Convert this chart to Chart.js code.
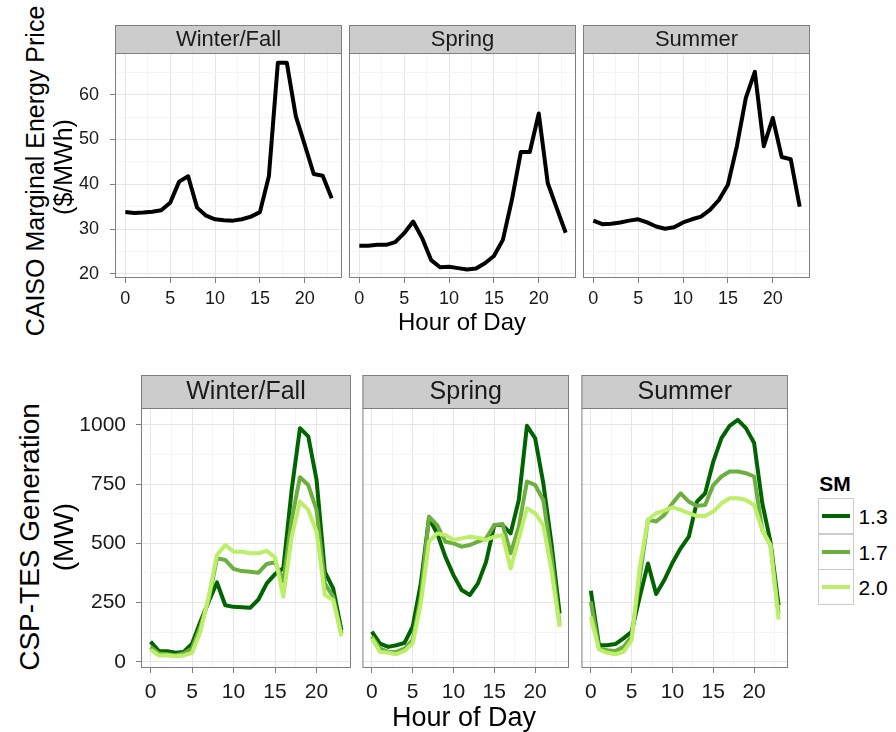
<!DOCTYPE html>
<html>
<head>
<meta charset="utf-8">
<script src="https://cdn.jsdelivr.net/npm/chart.js@4.4.0/dist/chart.umd.min.js"></script>
<style>
body { margin: 0; background: #fff; font-family: "Liberation Sans", Arial, sans-serif; }
#wrap { position: relative; width: 896px; height: 732px; overflow: hidden; background: #fff; }
#wrap canvas { position: absolute; }
.txt { position: absolute; white-space: nowrap; line-height: 1; color: #000; }
.key { position: absolute; width: 34px; height: 34px; border: 1px solid #CCCCCC; background: #fff; }
.key span { position: absolute; left: 3px; top: 15px; width: 28px; height: 4px; }
</style>
</head>
<body>
<div id="wrap"></div>
<script>
// hour of day (x categories)
var hours = [0, 1, 2, 3, 4, 5, 6, 7, 8, 9, 10, 11, 12, 13, 14, 15, 16, 17, 18, 19, 20, 21, 22, 23];
var seasons = ['Winter/Fall', 'Spring', 'Summer'];

// CAISO marginal energy price, $/MWh
var priceWinter = [33.8, 33.6, 33.7, 33.9, 34.2, 35.9, 40.6, 41.8, 34.8, 33.0, 32.2, 32.0, 31.9, 32.2, 32.8, 33.8, 41.8, 67.1, 67.1, 55.2, 48.8, 42.3, 41.9, 36.9];
var priceSpring = [26.3, 26.3, 26.5, 26.5, 27.1, 29.1, 31.7, 28.0, 23.1, 21.5, 21.6, 21.3, 21.0, 21.2, 22.4, 24.0, 27.6, 36.5, 47.2, 47.2, 55.8, 40.3, 34.7, 29.2];
var priceSummer = [31.9, 31.1, 31.2, 31.5, 31.9, 32.2, 31.5, 30.6, 30.1, 30.4, 31.5, 32.2, 32.8, 34.3, 36.5, 39.9, 48.5, 59.3, 65.1, 48.5, 54.8, 46.1, 45.6, 35.0];

// CSP-TES generation, MW, per solar multiple
var smLevels = ['1.3', '1.7', '2.0'];
var smColors = ['#006400', '#6DAF3E', '#BDEE68'];

var genWinter13 = [85, 45, 45, 38, 42, 77, 169, 254, 335, 239, 232, 230, 228, 263, 331, 370, 395, 725, 986, 951, 768, 380, 310, 134];
var genWinter17 = [63, 35, 32, 28, 35, 56, 148, 261, 437, 430, 392, 383, 380, 376, 413, 420, 340, 599, 779, 746, 641, 331, 275, 120];
var genWinter20 = [52, 27, 28, 24, 27, 38, 127, 275, 451, 493, 465, 465, 458, 458, 468, 441, 275, 528, 676, 641, 549, 282, 261, 108];

var genSpring13 = [127, 77, 63, 70, 80, 148, 331, 606, 542, 444, 366, 303, 282, 331, 423, 577, 577, 542, 683, 996, 944, 754, 500, 204];
var genSpring17 = [106, 56, 42, 42, 56, 92, 275, 613, 577, 507, 500, 486, 493, 507, 521, 577, 582, 458, 570, 761, 746, 683, 444, 155];
var genSpring20 = [99, 42, 38, 32, 46, 77, 246, 507, 542, 535, 514, 521, 528, 524, 514, 528, 535, 394, 521, 648, 627, 577, 387, 148];

var genSummer13 = [300, 70, 70, 75, 99, 127, 275, 415, 286, 345, 418, 479, 528, 676, 711, 845, 944, 996, 1021, 986, 923, 669, 507, 239];
var genSummer17 = [254, 56, 49, 46, 63, 106, 359, 599, 592, 620, 669, 711, 676, 658, 662, 746, 782, 803, 803, 796, 782, 556, 493, 204];
var genSummer20 = [190, 52, 38, 32, 42, 92, 401, 599, 627, 638, 652, 641, 627, 615, 615, 634, 669, 690, 690, 683, 662, 556, 493, 179];

// tick labels
var xTicks = [0, 5, 10, 15, 20];
var priceTicks = [20, 30, 40, 50, 60];
var genTicks = [0, 250, 500, 750, 1000];

Chart.defaults.font.family = '"Liberation Sans", Arial, sans-serif';
var wrap = document.getElementById('wrap');

function toPoints(values) {
	return hours.map(function(h, i) { return { x: h, y: values[i] }; });
}

// major ticks plus ggplot-style minor ticks halfway between them
function withMinor(major, min, max) {
	var step = major[1] - major[0];
	var out = [];
	for (var v = major[0] - step / 2; v <= major[major.length - 1] + step / 2; v += step / 2) {
		if (v >= min && v <= max) out.push(v);
	}
	return out;
}

// strip on top and grey border round the panel
var facetPlugin = {
	id: 'facet',
	beforeDraw: function(chart, args, opts) {
		var a = chart.chartArea, ctx = chart.ctx;
		ctx.save();
		ctx.fillStyle = '#CCCCCC';
		ctx.fillRect(a.left, a.top - opts.stripH, a.right - a.left, opts.stripH);
		ctx.strokeStyle = '#7F7F7F';
		ctx.lineWidth = 1;
		ctx.strokeRect(a.left + 0.5, a.top - opts.stripH + 0.5, a.right - a.left - 1, opts.stripH);
		ctx.fillStyle = '#1A1A1A';
		ctx.font = opts.fontSize + 'px "Liberation Sans", Arial, sans-serif';
		ctx.textAlign = 'center';
		ctx.textBaseline = 'middle';
		ctx.fillText(opts.text, (a.left + a.right) / 2, a.top - opts.stripH / 2 + 1);
		ctx.restore();
	},
	afterDraw: function(chart) {
		var a = chart.chartArea, ctx = chart.ctx;
		ctx.save();
		ctx.strokeStyle = '#7F7F7F';
		ctx.lineWidth = 1;
		ctx.strokeRect(a.left + 0.5, a.top + 0.5, a.right - a.left - 1, a.bottom - a.top - 1);
		ctx.restore();
	}
};

function makePanel(p) {
	var canvas = document.createElement('canvas');
	canvas.width = p.yAxisW + p.width + 1;
	canvas.height = p.stripH + p.height + p.xAxisH;
	canvas.style.left = (p.left - p.yAxisW) + 'px';
	canvas.style.top = (p.top - p.stripH) + 'px';
	wrap.appendChild(canvas);

	var xAll = withMinor(xTicks, -1.15, 24.15);
	var yAll = withMinor(p.yTicks, p.yMin, p.yMax);

	return new Chart(canvas, {
		type: 'line',
		data: { datasets: p.datasets },
		options: {
			responsive: false,
			animation: false,
			layout: { padding: { top: p.stripH, right: 1, left: 0, bottom: 0 } },
			elements: { point: { radius: 0 }, line: { tension: 0, borderJoinStyle: 'round', borderCapStyle: 'butt' } },
			plugins: {
				legend: { display: false },
				tooltip: { enabled: false },
				facet: { stripH: p.stripH, text: p.strip, fontSize: p.stripFont }
			},
			scales: {
				x: {
					type: 'linear',
					min: -1.15,
					max: 24.15,
					afterBuildTicks: function(s) { s.ticks = xAll.map(function(v) { return { value: v }; }); },
					afterFit: function(s) { s.height = p.xAxisH; },
					border: { display: false },
					grid: {
						color: function(c) { return xTicks.indexOf(c.tick.value) >= 0 ? '#E5E5E5' : '#F5F5F5'; },
						tickColor: function(c) { return xTicks.indexOf(c.tick.value) >= 0 ? '#7F7F7F' : 'rgba(0,0,0,0)'; },
						tickLength: 5,
						lineWidth: 1
					},
					ticks: {
						autoSkip: false,
						maxRotation: 0,
						padding: p.xPad,
						color: '#1A1A1A',
						font: { size: p.tickFont },
						callback: function(v) { return xTicks.indexOf(v) >= 0 ? String(v) : ''; }
					}
				},
				y: {
					type: 'linear',
					min: p.yMin,
					max: p.yMax,
					afterBuildTicks: function(s) { s.ticks = yAll.map(function(v) { return { value: v }; }); },
					afterFit: function(s) { s.width = p.yAxisW; },
					border: { display: false },
					grid: {
						color: function(c) { return p.yTicks.indexOf(c.tick.value) >= 0 ? '#E5E5E5' : '#F5F5F5'; },
						tickColor: function(c) { return (p.showY && p.yTicks.indexOf(c.tick.value) >= 0) ? '#7F7F7F' : 'rgba(0,0,0,0)'; },
						drawTicks: p.showY,
						tickLength: 5
					},
					ticks: {
						display: p.showY,
						autoSkip: false,
						padding: p.yPad,
						color: '#1A1A1A',
						font: { size: p.tickFont },
						callback: function(v) { return p.yTicks.indexOf(v) >= 0 ? String(v) : ''; }
					}
				}
			}
		},
		plugins: [facetPlugin]
	});
}

function addText(text, cx, cy, size, rotate, weight) {
	var d = document.createElement('div');
	d.className = 'txt';
	d.textContent = text;
	d.style.left = cx + 'px';
	d.style.top = cy + 'px';
	d.style.fontSize = size + 'px';
	if (weight) d.style.fontWeight = weight;
	d.style.transform = 'translate(-50%, -50%)' + (rotate ? ' rotate(-90deg)' : '');
	wrap.appendChild(d);
}

// top row: price
var priceSeries = [priceWinter, priceSpring, priceSummer];
var topLefts = [115, 349, 583];
seasons.forEach(function(s, i) {
	makePanel({
		left: topLefts[i], top: 53, width: 227, height: 225,
		stripH: 28, stripFont: 22, strip: s,
		yAxisW: i === 0 ? 55 : 0, showY: i === 0,
		xAxisH: 34, xPad: 5, tickFont: 18, yPad: 11,
		yMin: 19.1, yMax: 69.3, yTicks: priceTicks,
		datasets: [{
			data: toPoints(priceSeries[i]),
			borderColor: '#000000',
			borderWidth: 4
		}]
	});
});

// bottom row: generation
var genSeries = [
	[genWinter13, genWinter17, genWinter20],
	[genSpring13, genSpring17, genSpring20],
	[genSummer13, genSummer17, genSummer20]
];
var bottomLefts = [141, 359, 578];
seasons.forEach(function(s, i) {
	makePanel({
		left: bottomLefts[i], top: 408, width: 210, height: 260,
		stripH: 33, stripFont: 25, strip: s,
		yAxisW: i === 0 ? 64 : 0, showY: i === 0,
		xAxisH: 40, xPad: 7, tickFont: 21, yPad: 10,
		yMin: -26, yMax: 1071, yTicks: genTicks,
		datasets: smLevels.map(function(sm, k) {
			return {
				label: sm,
				data: toPoints(genSeries[i][k]),
				borderColor: smColors[k],
				borderWidth: 4,
				order: smLevels.length - k
			};
		})
	});
});

// axis titles
addText('CAISO Marginal Energy Price', 35, 171, 25, true);
addText('($/MWh)', 63, 167, 25, true);
addText('Hour of Day', 462, 322, 24);
addText('CSP-TES Generation', 30, 537, 28, true);
addText('(MW)', 64, 537, 28, true);
addText('Hour of Day', 464, 717, 27);

// legend
addText('SM', 835, 483, 21, false, 'bold');
smLevels.forEach(function(sm, k) {
	var key = document.createElement('div');
	key.className = 'key';
	key.style.left = '818px';
	key.style.top = (498 + k * 35.5) + 'px';
	var line = document.createElement('span');
	line.style.background = smColors[k];
	key.appendChild(line);
	wrap.appendChild(key);
	addText(sm, 873, 516 + k * 35.5, 21);
});
</script>
</body>
</html>
